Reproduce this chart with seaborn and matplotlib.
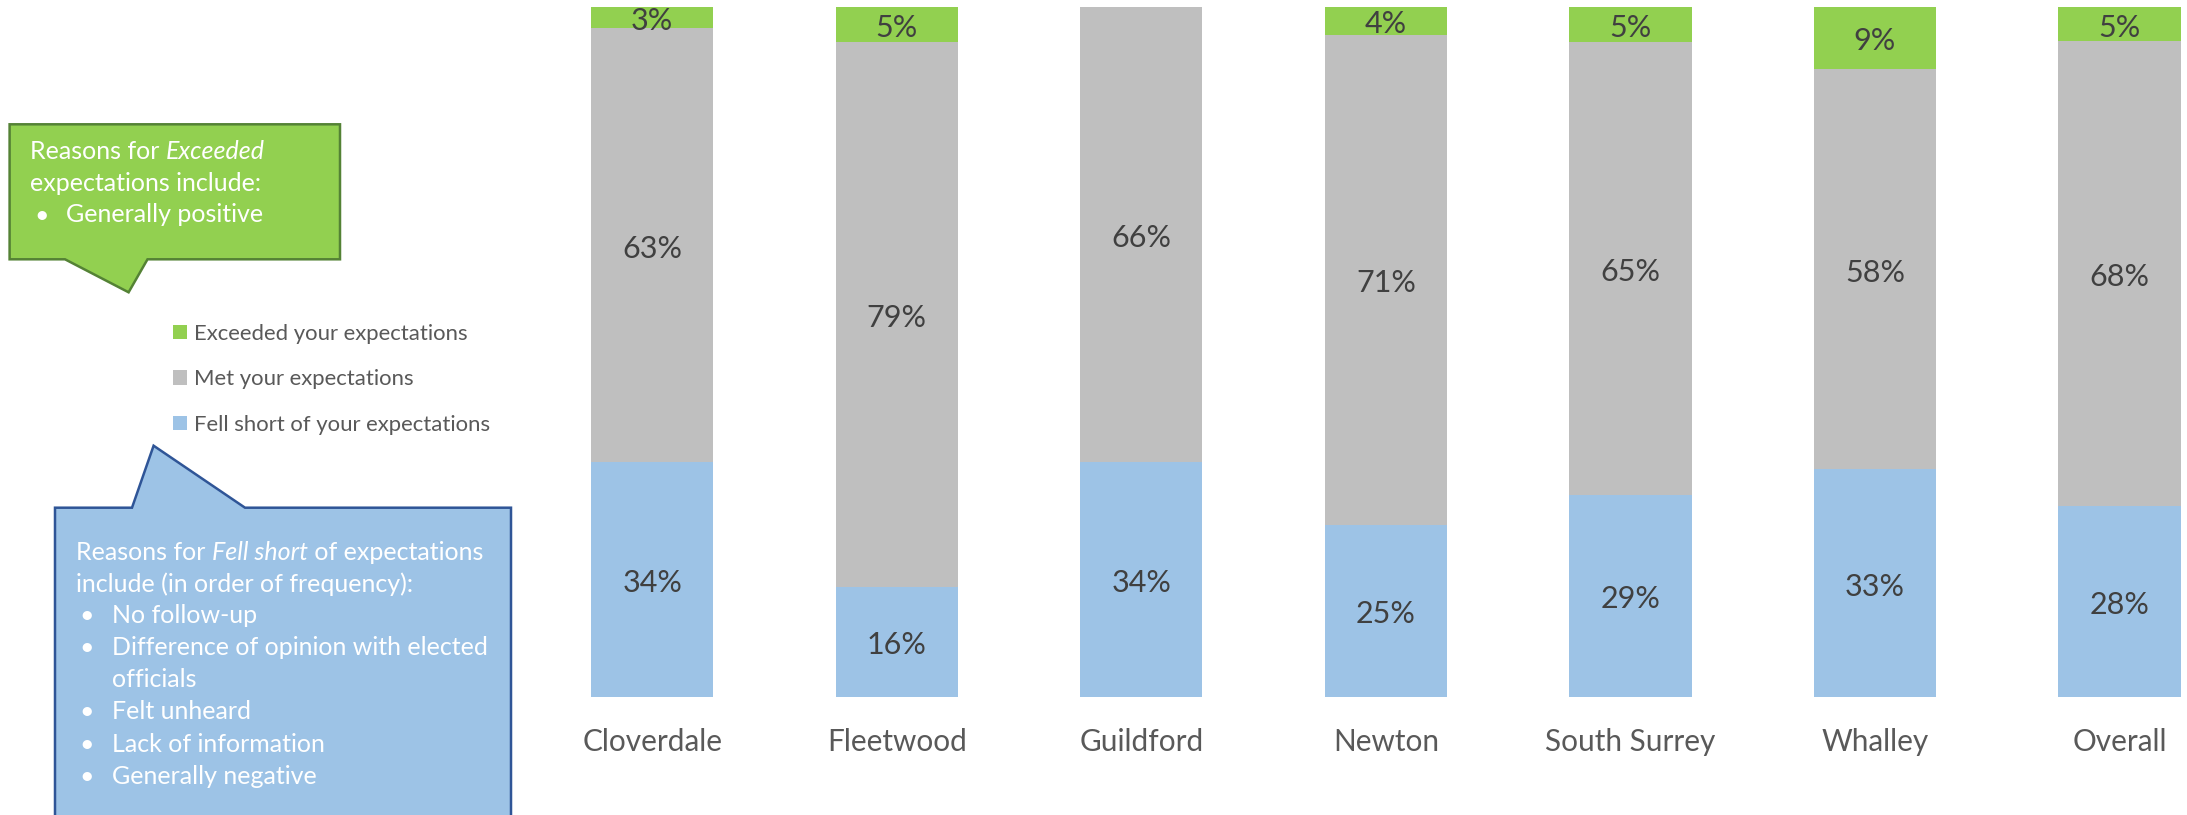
import numpy as np
import pandas as pd
import seaborn as sns
import matplotlib.pyplot as plt
from matplotlib.patches import Polygon, Patch
from matplotlib.text import Annotation

# ---- data -------------------------------------------------------------
areas = ["Cloverdale", "Fleetwood", "Guildford", "Newton", "South Surrey", "Whalley", "Overall"]
fell_short = [34, 16, 34, 25, 29, 33, 28]
met = [63, 79, 66, 71, 65, 58, 68]
exceeded = [3, 5, 0, 4, 5, 9, 5]
series_labels = ["Exceeded your expectations", "Met your expectations", "Fell short of your expectations"]

exceeded_notes = ["Generally positive"]
fell_short_notes = ["No follow-up", "Difference of opinion with elected\nofficials",
                    "Felt unheard", "Lack of information", "Generally negative"]

GREEN = "#92D050"
GREY = "#BFBFBF"
BLUE = "#9DC3E6"
LABEL_DARK = "#404040"
LABEL_GREY = "#595959"

W, H = 2187, 815
sns.set_theme(style="white")
plt.rcParams["font.family"] = ["Lato", "DejaVu Sans"]

fig = plt.figure(figsize=(W / 100, H / 100), dpi=100)
fig.patch.set_facecolor("white")


def fx(x):
    return x / W


def fy(y):
    return 1 - y / H


# ---- stacked 100% bars -------------------------------------------------
df = pd.DataFrame({"area": areas, "short": fell_short, "met": met, "exc": exceeded})
df["total"] = df["short"] + df["met"] + df["exc"]
df["cum_short"] = df["short"] / df["total"]
df["cum_met"] = (df["short"] + df["met"]) / df["total"]
df["cum_top"] = (df["short"] + df["met"] + df["exc"]) / df["total"]

ax = fig.add_axes([fx(530), 118 / H, 1 - fx(530), 690 / H])
# Draw cumulative heights from the top down so each layer shows its own share
for col, colour in [("cum_top", GREEN), ("cum_met", GREY), ("cum_short", BLUE)]:
    sns.barplot(data=df, x="area", y=col, order=areas, color=colour, saturation=1,
                width=0.5, errorbar=None, linewidth=0, ax=ax)

ax.set_xlim(-0.5, 6.276)
ax.set_ylim(0, 1)
ax.set_xlabel("")
ax.set_ylabel("")
ax.set_yticks([])
sns.despine(ax=ax, left=True, bottom=True)
ax.tick_params(axis="x", length=0, pad=22, labelsize=21.4, labelcolor=LABEL_GREY)

for i, row in df.iterrows():
    segs = [(row["short"], 0, row["cum_short"]),
            (row["met"], row["cum_short"], row["cum_met"]),
            (row["exc"], row["cum_met"], row["cum_top"])]
    for val, lo, hi in segs:
        if val > 0:
            ax.text(i, (lo + hi) / 2 - 0.005, f"{val}%", ha="center", va="center",
                    fontsize=22, color=LABEL_DARK)

# ---- legend --------------------------------------------------------------
handles = [Patch(facecolor=c, edgecolor="none", label=l)
           for c, l in zip([GREEN, GREY, BLUE], series_labels)]
fig.legend(handles=handles, loc="upper left", bbox_to_anchor=(fx(173), fy(324)),
           frameon=False, fontsize=15.9, handlelength=0.62, handleheight=0.62,
           handletextpad=0.35, labelspacing=1.15, borderpad=0, borderaxespad=0,
           labelcolor=LABEL_GREY)

# ---- callout boxes -------------------------------------------------------
green_box = [(9.6, 124.3), (340, 124.3), (340, 259.3), (147.5, 259.3), (128.6, 292.3),
             (65, 259.3), (9.6, 259.3)]
fig.patches.append(Polygon([(fx(x), fy(y)) for x, y in green_box], closed=True,
                           facecolor=GREEN, edgecolor="#548235", linewidth=1.8,
                           transform=fig.transFigure, figure=fig))

blue_box = [(55, 507.7), (132, 507.7), (153.6, 445.7), (245, 507.7), (511, 507.7),
            (511, 840), (55, 840)]
fig.patches.append(Polygon([(fx(x), fy(y)) for x, y in blue_box], closed=True,
                           facecolor=BLUE, edgecolor="#2F5597", linewidth=1.8,
                           transform=fig.transFigure, figure=fig))

BOX_FS = 18


def pieces_line(x, y, pieces):
    """Write one line made of (text, style) pieces placed side by side."""
    last = None
    for txt, style in pieces:
        if last is None:
            last = fig.text(fx(x), fy(y), txt, ha="left", va="center",
                            color="white", fontsize=BOX_FS, style=style)
        else:
            last = fig.add_artist(Annotation(
                txt, xy=(1, 0.5), xycoords=last, ha="left", va="center",
                color="white", fontsize=BOX_FS, style=style, annotation_clip=False))


def bullets(x_dot, x_txt, y0, step, items):
    y = y0
    for item in items:
        fig.text(fx(x_dot), fy(y), "•", ha="left", va="center", color="white",
                 fontsize=BOX_FS)
        for k, part in enumerate(item.split("\n")):
            fig.text(fx(x_txt), fy(y + k * step), part, ha="left", va="center",
                     color="white", fontsize=BOX_FS)
        y += step * (1 + item.count("\n"))


pieces_line(30, 151.7, [("Reasons for ", "normal"), ("Exceeded", "italic")])
fig.text(fx(30), fy(183.3), "expectations include:", ha="left", va="center",
         color="white", fontsize=BOX_FS)
bullets(34, 66, 215, 31.7, exceeded_notes)

pieces_line(76, 552.3, [("Reasons for ", "normal"), ("Fell short", "italic"),
                        (" of expectations", "normal")])
fig.text(fx(76), fy(584), "include (in order of frequency):", ha="left", va="center",
         color="white", fontsize=BOX_FS)
bullets(79, 112, 615.6, 32.1, fell_short_notes)

fig.savefig("out.png", dpi=100, facecolor="white")
